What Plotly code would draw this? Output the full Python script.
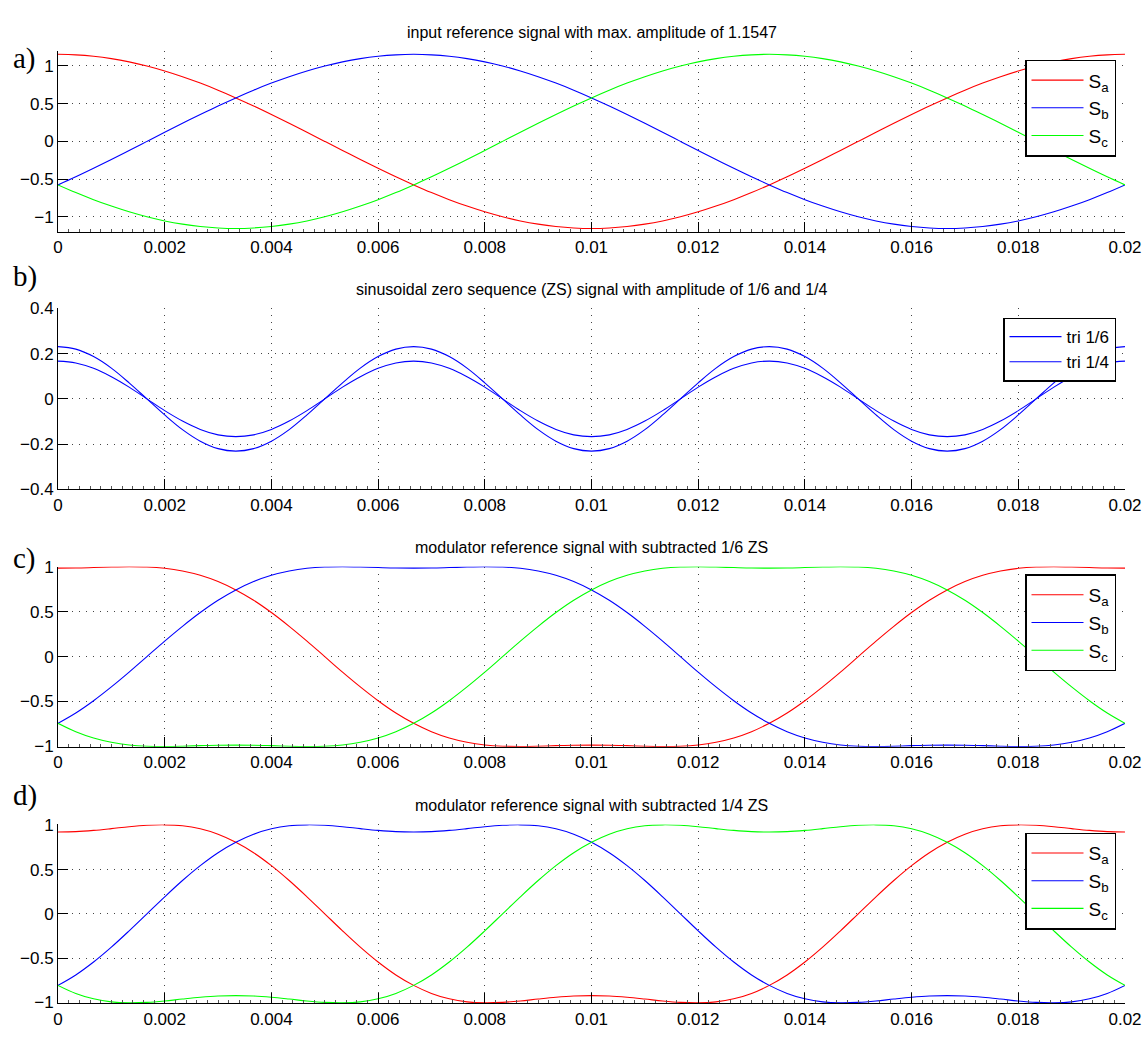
import plotly.graph_objects as go

# time samples (s), 6 deg steps of a 50 Hz period
T = [k / 3000 for k in range(61)]
X_TICKS = [0, 0.002, 0.004, 0.006, 0.008, 0.01, 0.012, 0.014, 0.016, 0.018, 0.02]
X_TICKTEXT = ["0", "0.002", "0.004", "0.006", "0.008", "0.01", "0.012", "0.014", "0.016", "0.018", "0.02"]

# a) input reference signals
SA_IN = [1.155, 1.148, 1.129, 1.098, 1.055, 1.000, 0.934, 0.858, 0.773, 0.679, 0.577, 0.470, 0.357, 0.240, 0.121, 0.000,
         -0.121, -0.240, -0.357, -0.470, -0.577, -0.679, -0.773, -0.858, -0.934, -1.000, -1.055, -1.098, -1.129, -1.148, -1.155,
         -1.148, -1.129, -1.098, -1.055, -1.000, -0.934, -0.858, -0.773, -0.679, -0.577, -0.470, -0.357, -0.240, -0.121, 0.000,
         0.121, 0.240, 0.357, 0.470, 0.577, 0.679, 0.773, 0.858, 0.934, 1.000, 1.055, 1.098, 1.129, 1.148, 1.155]
SB_IN = [-0.577, -0.470, -0.357, -0.240, -0.121, 0.000, 0.121, 0.240, 0.357, 0.470, 0.577, 0.679, 0.773, 0.858, 0.934, 1.000,
         1.055, 1.098, 1.129, 1.148, 1.155, 1.148, 1.129, 1.098, 1.055, 1.000, 0.934, 0.858, 0.773, 0.679, 0.577,
         0.470, 0.357, 0.240, 0.121, 0.000, -0.121, -0.240, -0.357, -0.470, -0.577, -0.679, -0.773, -0.858, -0.934, -1.000,
         -1.055, -1.098, -1.129, -1.148, -1.155, -1.148, -1.129, -1.098, -1.055, -1.000, -0.934, -0.858, -0.773, -0.679, -0.577]
SC_IN = [-0.577, -0.679, -0.773, -0.858, -0.934, -1.000, -1.055, -1.098, -1.129, -1.148, -1.155, -1.148, -1.129, -1.098, -1.055, -1.000,
         -0.934, -0.858, -0.773, -0.679, -0.577, -0.470, -0.357, -0.240, -0.121, 0.000, 0.121, 0.240, 0.357, 0.470, 0.577,
         0.679, 0.773, 0.858, 0.934, 1.000, 1.055, 1.098, 1.129, 1.148, 1.155, 1.148, 1.129, 1.098, 1.055, 1.000,
         0.934, 0.858, 0.773, 0.679, 0.577, 0.470, 0.357, 0.240, 0.121, 0.000, -0.121, -0.240, -0.357, -0.470, -0.577]

# b) zero sequence signals
ZS_16 = [0.167, 0.159, 0.135, 0.098, 0.052, 0.000, -0.052, -0.098, -0.135, -0.159, -0.167, -0.159, -0.135, -0.098, -0.052, 0.000,
         0.052, 0.098, 0.135, 0.159, 0.167, 0.159, 0.135, 0.098, 0.052, 0.000, -0.052, -0.098, -0.135, -0.159, -0.167,
         -0.159, -0.135, -0.098, -0.052, 0.000, 0.052, 0.098, 0.135, 0.159, 0.167, 0.159, 0.135, 0.098, 0.052, 0.000,
         -0.052, -0.098, -0.135, -0.159, -0.167, -0.159, -0.135, -0.098, -0.052, 0.000, 0.052, 0.098, 0.135, 0.159, 0.167]
ZS_14 = [0.231, 0.220, 0.187, 0.136, 0.071, 0.000, -0.071, -0.136, -0.187, -0.220, -0.231, -0.220, -0.187, -0.136, -0.071, 0.000,
         0.071, 0.136, 0.187, 0.220, 0.231, 0.220, 0.187, 0.136, 0.071, 0.000, -0.071, -0.136, -0.187, -0.220, -0.231,
         -0.220, -0.187, -0.136, -0.071, 0.000, 0.071, 0.136, 0.187, 0.220, 0.231, 0.220, 0.187, 0.136, 0.071, 0.000,
         -0.071, -0.136, -0.187, -0.220, -0.231, -0.220, -0.187, -0.136, -0.071, 0.000, 0.071, 0.136, 0.187, 0.220, 0.231]

# c) modulator reference with subtracted 1/6 ZS
SA_16 = [0.988, 0.989, 0.994, 1.000, 1.003, 1.000, 0.986, 0.956, 0.908, 0.838, 0.744, 0.629, 0.492, 0.338, 0.173, 0.000,
         -0.173, -0.338, -0.492, -0.629, -0.744, -0.838, -0.908, -0.956, -0.986, -1.000, -1.003, -1.000, -0.994, -0.989, -0.988,
         -0.989, -0.994, -1.000, -1.003, -1.000, -0.986, -0.956, -0.908, -0.838, -0.744, -0.629, -0.492, -0.338, -0.173, 0.000,
         0.173, 0.338, 0.492, 0.629, 0.744, 0.838, 0.908, 0.956, 0.986, 1.000, 1.003, 1.000, 0.994, 0.989, 0.988]
SB_16 = [-0.744, -0.629, -0.492, -0.338, -0.173, 0.000, 0.173, 0.338, 0.492, 0.629, 0.744, 0.838, 0.908, 0.956, 0.986, 1.000,
         1.003, 1.000, 0.994, 0.989, 0.988, 0.989, 0.994, 1.000, 1.003, 1.000, 0.986, 0.956, 0.908, 0.838, 0.744,
         0.629, 0.492, 0.338, 0.173, 0.000, -0.173, -0.338, -0.492, -0.629, -0.744, -0.838, -0.908, -0.956, -0.986, -1.000,
         -1.003, -1.000, -0.994, -0.989, -0.988, -0.989, -0.994, -1.000, -1.003, -1.000, -0.986, -0.956, -0.908, -0.838, -0.744]
SC_16 = [-0.744, -0.838, -0.908, -0.956, -0.986, -1.000, -1.003, -1.000, -0.994, -0.989, -0.988, -0.989, -0.994, -1.000, -1.003, -1.000,
         -0.986, -0.956, -0.908, -0.838, -0.744, -0.629, -0.492, -0.338, -0.173, 0.000, 0.173, 0.338, 0.492, 0.629, 0.744,
         0.838, 0.908, 0.956, 0.986, 1.000, 1.003, 1.000, 0.994, 0.989, 0.988, 0.989, 0.994, 1.000, 1.003, 1.000,
         0.986, 0.956, 0.908, 0.838, 0.744, 0.629, 0.492, 0.338, 0.173, 0.000, -0.173, -0.338, -0.492, -0.629, -0.744]

# d) modulator reference with subtracted 1/4 ZS
SA_14 = [0.924, 0.928, 0.942, 0.962, 0.984, 1.000, 1.005, 0.994, 0.960, 0.899, 0.808, 0.690, 0.544, 0.376, 0.192, 0.000,
         -0.192, -0.376, -0.544, -0.690, -0.808, -0.899, -0.960, -0.994, -1.005, -1.000, -0.984, -0.962, -0.942, -0.928, -0.924,
         -0.928, -0.942, -0.962, -0.984, -1.000, -1.005, -0.994, -0.960, -0.899, -0.808, -0.690, -0.544, -0.376, -0.192, 0.000,
         0.192, 0.376, 0.544, 0.690, 0.808, 0.899, 0.960, 0.994, 1.005, 1.000, 0.984, 0.962, 0.942, 0.928, 0.924]
SB_14 = [-0.808, -0.690, -0.544, -0.376, -0.192, 0.000, 0.192, 0.376, 0.544, 0.690, 0.808, 0.899, 0.960, 0.994, 1.005, 1.000,
         0.984, 0.962, 0.942, 0.928, 0.924, 0.928, 0.942, 0.962, 0.984, 1.000, 1.005, 0.994, 0.960, 0.899, 0.808,
         0.690, 0.544, 0.376, 0.192, 0.000, -0.192, -0.376, -0.544, -0.690, -0.808, -0.899, -0.960, -0.994, -1.005, -1.000,
         -0.984, -0.962, -0.942, -0.928, -0.924, -0.928, -0.942, -0.962, -0.984, -1.000, -1.005, -0.994, -0.960, -0.899, -0.808]
SC_14 = [-0.808, -0.899, -0.960, -0.994, -1.005, -1.000, -0.984, -0.962, -0.942, -0.928, -0.924, -0.928, -0.942, -0.962, -0.984, -1.000,
         -1.005, -0.994, -0.960, -0.899, -0.808, -0.690, -0.544, -0.376, -0.192, 0.000, 0.192, 0.376, 0.544, 0.690, 0.808,
         0.899, 0.960, 0.994, 1.005, 1.000, 0.984, 0.962, 0.942, 0.928, 0.924, 0.928, 0.942, 0.962, 0.984, 1.000,
         1.005, 0.994, 0.960, 0.899, 0.808, 0.690, 0.544, 0.376, 0.192, 0.000, -0.192, -0.376, -0.544, -0.690, -0.808]

TITLES = ["input reference signal with max. amplitude of 1.1547",
          "sinusoidal zero sequence (ZS) signal with amplitude of 1/6 and 1/4",
          "modulator reference signal with subtracted 1/6 ZS",
          "modulator reference signal with subtracted 1/4 ZS"]
PANEL_LABELS = ["a)", "b)", "c)", "d)"]

RED, BLUE, GREEN = "#ff0000", "#0000ff", "#00ff00"
FONT = "Liberation Sans, Arial, Helvetica, sans-serif"
W, H = 1145, 1038
ML, MR = 58, 20

def py(px):
    return 1 - px / H

def pxx(px):
    return (px - ML) / (W - ML - MR)

# pixel geometry (top, bottom) per panel
PANEL_PX = [(42.7, 227.0), (305.0, 489.3), (567.9, 751.5), (830.6, 1012.8)]
YRANGES = [[-1.2, 1.2], [-0.4, 0.4], [-1.006, 1.006], [-1.01, 1.01]]
YTICKS = [[-1, -0.5, 0, 0.5, 1], [-0.4, -0.2, 0, 0.2, 0.4], [-1, -0.5, 0, 0.5, 1], [-1, -0.5, 0, 0.5, 1]]
YTICKTEXT = [["\u22121", "\u22120.5", "0", "0.5", "1"], ["\u22120.4", "\u22120.2", "0", "0.2", "0.4"],
             ["\u22121", "\u22120.5", "0", "0.5", "1"], ["\u22121", "\u22120.5", "0", "0.5", "1"]]
TITLE_Y = [24, 286, 549, 811]
LABEL_Y = [50, 272, 560, 801]
LEGEND_TOP = [51.7, 314.3, 576, 839]

fig = go.Figure()

series = [
    [(SA_IN, RED, "S<sub>a</sub>"), (SB_IN, BLUE, "S<sub>b</sub>"), (SC_IN, GREEN, "S<sub>c</sub>")],
    [(ZS_16, BLUE, "tri 1/6"), (ZS_14, BLUE, "tri 1/4")],
    [(SA_16, RED, "S<sub>a</sub>"), (SB_16, BLUE, "S<sub>b</sub>"), (SC_16, GREEN, "S<sub>c</sub>")],
    [(SA_14, RED, "S<sub>a</sub>"), (SB_14, BLUE, "S<sub>b</sub>"), (SC_14, GREEN, "S<sub>c</sub>")],
]

for i, group in enumerate(series):
    sfx = "" if i == 0 else str(i + 1)
    for ys, col, name in group:
        fig.add_trace(go.Scatter(
            x=T, y=ys, mode="lines", name=name,
            line=dict(color=col, width=1.1, shape="spline", smoothing=1.0),
            xaxis="x" + sfx, yaxis="y" + sfx, legend="legend" + sfx,
        ))

layout = dict(
    width=W, height=H,
    margin=dict(l=ML, r=MR, t=0, b=0),
    paper_bgcolor="white", plot_bgcolor="white",
    font=dict(family=FONT, size=17, color="black"),
    annotations=[], showlegend=True,
)

for i in range(4):
    sfx = "" if i == 0 else str(i + 1)
    top, bot = PANEL_PX[i]
    layout["xaxis" + sfx] = dict(
        domain=[0, 1], range=[0, 0.02], anchor="y" + sfx,
        tickvals=X_TICKS, ticktext=X_TICKTEXT,
        showline=True, linecolor="black", linewidth=1, mirror=False,
        ticks="inside", ticklen=10, tickcolor="black", tickwidth=1,
        showgrid=True, gridcolor="#444444", gridwidth=1, griddash="1px,6px",
        zeroline=False, tickfont=dict(family=FONT, size=17),
        minor=dict(dtick=0.0002, tick0=0, ticks="inside", ticklen=3, tickcolor="#555555", showgrid=False),
    )
    layout["yaxis" + sfx] = dict(
        domain=[py(bot), py(top)], range=YRANGES[i], anchor="x" + sfx,
        tickvals=YTICKS[i], ticktext=YTICKTEXT[i],
        showline=True, linecolor="black", linewidth=1, mirror=False,
        ticks="inside", ticklen=10, tickcolor="black", tickwidth=1,
        showgrid=True, gridcolor="#444444", gridwidth=1, griddash="1px,6px",
        zeroline=False, tickfont=dict(family=FONT, size=17),
    )
    layout["legend" + sfx] = dict(
        x=pxx(1116), y=py(LEGEND_TOP[i]), xanchor="right", yanchor="top",
        xref="paper", yref="paper",
        bgcolor="white", bordercolor="black", borderwidth=1.5,
        font=dict(family=FONT, size=19 if i != 1 else 17, color="black"),
        itemwidth=52, tracegroupgap=0,
    )
    layout["annotations"].append(dict(
        text=TITLES[i], x=0.5, y=py(TITLE_Y[i]), xref="paper", yref="paper",
        xanchor="center", yanchor="middle", showarrow=False,
        font=dict(family=FONT, size=16, color="black"),
    ))
    layout["annotations"].append(dict(
        text=PANEL_LABELS[i], x=pxx(11), y=py(LABEL_Y[i]), xref="paper", yref="paper",
        xanchor="left", yanchor="middle", showarrow=False,
        font=dict(family="Liberation Serif, Times New Roman, serif", size=29, color="black"),
    ))

fig.update_layout(**layout)
fig.write_html("out.html")
